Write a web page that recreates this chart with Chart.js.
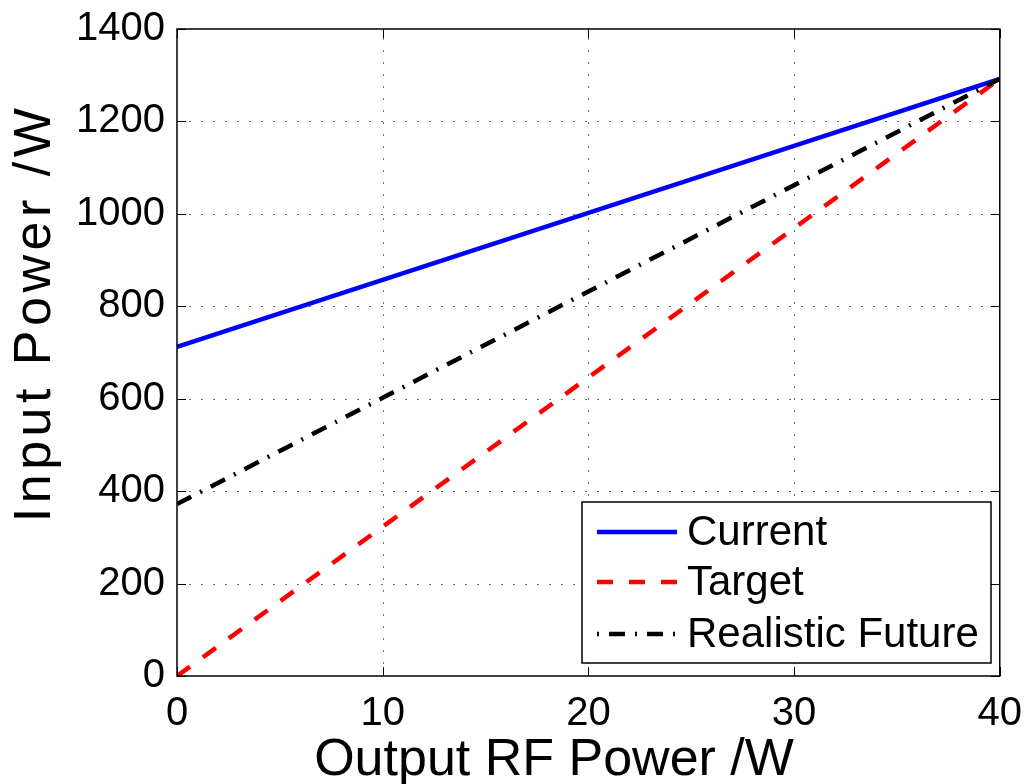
<!DOCTYPE html>
<html>
<head>
<meta charset="utf-8">
<style>
  html, body { margin: 0; padding: 0; background: #fff; }
  #wrap { width: 1028px; height: 784px; position: relative; }
</style>
<script src="https://cdn.jsdelivr.net/npm/chart.js@4.4.1/dist/chart.umd.min.js"></script>
</head>
<body>
<div id="wrap"><canvas id="chart" width="1028" height="784"></canvas></div>
<script>
const outputPower = [0, 10, 20, 30, 40];
const currentInput = [712, 857, 1002, 1147, 1292];
const targetInput = [0, 323, 646, 969, 1292];
const realisticInput = [372, 602, 832, 1062, 1292];
const seriesNames = ['Current', 'Target', 'Realistic Future'];
const xTitle = 'Output RF Power /W';
const yTitle = 'Input Power /W';

const FONT = '"Liberation Sans", Arial, sans-serif';

const toPoints = ys => outputPower.map((x, i) => ({ x: x, y: ys[i] }));

// grid, box, inward ticks, legend and axis titles drawn the matlab way
const matlabFrame = {
    id: 'matlabFrame',
    beforeDatasetsDraw(chart) {
        const { ctx, chartArea: a, scales: { x, y } } = chart;
        ctx.save();
        ctx.strokeStyle = '#707070';
        ctx.lineWidth = 1;
        ctx.setLineDash([2, 10]);
        x.ticks.forEach(t => {
            if (t.value <= x.min || t.value >= x.max) return;
            const px = Math.round(x.getPixelForValue(t.value)) + 0.5;
            ctx.beginPath(); ctx.moveTo(px, a.bottom); ctx.lineTo(px, a.top); ctx.stroke();
        });
        y.ticks.forEach(t => {
            if (t.value <= y.min || t.value >= y.max) return;
            const py = Math.round(y.getPixelForValue(t.value)) + 0.5;
            ctx.beginPath(); ctx.moveTo(a.left, py); ctx.lineTo(a.right, py); ctx.stroke();
        });
        ctx.restore();
    },
    afterDatasetsDraw(chart) {
        const { ctx, chartArea: a, scales: { x, y } } = chart;
        ctx.save();
        ctx.setLineDash([]);
        ctx.strokeStyle = '#000';
        ctx.lineWidth = 1.5;
        ctx.strokeRect(a.left, a.top, a.right - a.left, a.bottom - a.top);

        const tl = 9;
        ctx.lineWidth = 1;
        x.ticks.forEach(t => {
            const px = Math.round(x.getPixelForValue(t.value)) + 0.5;
            ctx.beginPath();
            ctx.moveTo(px, a.bottom); ctx.lineTo(px, a.bottom - tl);
            ctx.moveTo(px, a.top); ctx.lineTo(px, a.top + tl);
            ctx.stroke();
        });
        y.ticks.forEach(t => {
            const py = Math.round(y.getPixelForValue(t.value)) + 0.5;
            ctx.beginPath();
            ctx.moveTo(a.left, py); ctx.lineTo(a.left + tl, py);
            ctx.moveTo(a.right, py); ctx.lineTo(a.right - tl, py);
            ctx.stroke();
        });

        // legend
        const lx0 = 582, ly0 = 502, lx1 = 991, ly1 = 663;
        ctx.fillStyle = '#fff';
        ctx.fillRect(lx0, ly0, lx1 - lx0, ly1 - ly0);
        ctx.lineWidth = 1.5;
        ctx.strokeRect(lx0, ly0, lx1 - lx0, ly1 - ly0);
        const rows = [532, 582, 634];
        const offsets = [0, 0, 26];
        ctx.font = '42px ' + FONT;
        ctx.textBaseline = 'middle';
        ctx.textAlign = 'left';
        chart.data.datasets.forEach((ds, i) => {
            ctx.strokeStyle = ds.borderColor;
            ctx.lineWidth = ds.borderWidth;
            ctx.setLineDash(ds.borderDash || []);
            ctx.lineDashOffset = offsets[i];
            ctx.beginPath();
            ctx.moveTo(597, rows[i]); ctx.lineTo(677, rows[i]);
            ctx.stroke();
            ctx.setLineDash([]);
            ctx.fillStyle = '#000';
            ctx.fillText(ds.label, 687, rows[i] + 1);
        });

        // axis titles
        ctx.font = '52px ' + FONT;
        ctx.fillStyle = '#000';
        ctx.textAlign = 'center';
        ctx.textBaseline = 'alphabetic';
        ctx.fillText(xTitle, 554, 775);
        ctx.translate(50, 315);
        ctx.rotate(-Math.PI / 2);
        ctx.letterSpacing = '4.5px';
        ctx.fillText(yTitle, 2, 0);
        ctx.restore();
    }
};

new Chart(document.getElementById('chart'), {
    type: 'line',
    data: {
        datasets: [
            { label: seriesNames[0], data: toPoints(currentInput), borderColor: '#0000ff', borderWidth: 4.5, order: 3 },
            { label: seriesNames[1], data: toPoints(targetInput), borderColor: '#ff0000', borderWidth: 4.5, borderDash: [16, 16], order: 2 },
            { label: seriesNames[2], data: toPoints(realisticInput), borderColor: '#000000', borderWidth: 4.5, borderDash: [16, 10, 2, 10], order: 1 }
        ]
    },
    options: {
        responsive: false,
        animation: false,
        events: [],
        elements: { point: { radius: 0 }, line: { tension: 0, borderCapStyle: 'butt' } },
        layout: { padding: { top: 29, right: 24, left: 0, bottom: 0 } },
        plugins: { legend: { display: false }, tooltip: { enabled: false } },
        scales: {
            x: {
                type: 'linear', min: 0, max: 40,
                ticks: { stepSize: 10, color: '#000', font: { family: FONT, size: 40 }, padding: 6, maxRotation: 0,
                         callback: v => String(v) },
                grid: { display: false },
                border: { display: false },
                afterFit(scale) { scale.height = 108; }
            },
            y: {
                min: 0, max: 1400,
                ticks: { stepSize: 200, color: '#000', font: { family: FONT, size: 40 }, padding: 4,
                         callback: v => String(v) },
                grid: { display: false },
                border: { display: false },
                afterFit(scale) { scale.width = 177; }
            }
        }
    },
    plugins: [matlabFrame]
});
</script>
</body>
</html>
